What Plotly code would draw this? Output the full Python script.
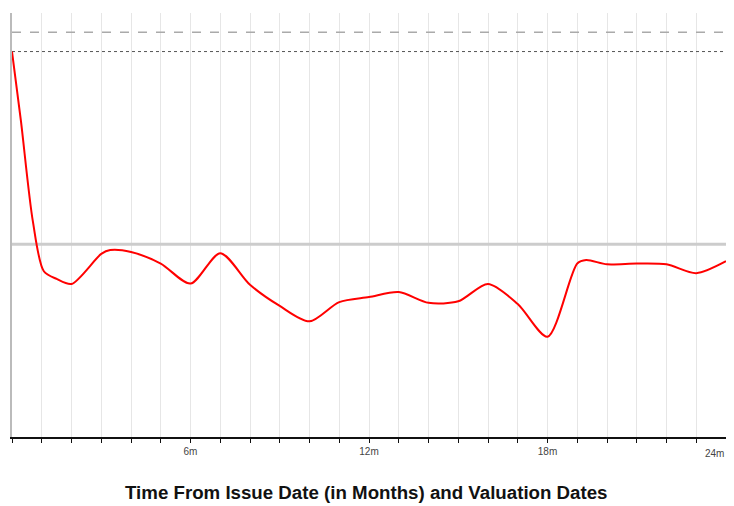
import plotly.graph_objects as go

months = [0, 0.3, 0.7, 1.07, 1.5, 2, 3, 3.3, 4, 5, 6, 7, 8, 9, 10, 11, 12, 13, 14, 15, 16, 17, 18, 19, 19.3, 20, 21, 22, 23, 24]
values = [100, 82, 56, 43, 41, 39.7, 47.5, 48.5, 48, 45, 39.8, 47.7, 39.5, 34, 30, 35, 36.3, 37.6, 34.8, 35.2, 39.7, 34.5, 26, 45, 45.9, 44.8, 45, 44.8, 42.5, 45.6]

upper_level = 105
initial_level = 100
barrier_level = 50

tick_months = list(range(0, 25))
tick_labels = ["6m" if m == 6 else "12m" if m == 12 else "18m" if m == 18 else "" for m in tick_months]
last_label = "24m"

fig = go.Figure()
fig.add_trace(go.Scatter(x=[0, 24], y=[upper_level, upper_level], mode="lines",
                         line=dict(color="#aaaaaa", width=1.5, dash="dash"), hoverinfo="skip"))
fig.add_trace(go.Scatter(x=[0, 24], y=[initial_level, initial_level], mode="lines",
                         line=dict(color="#555555", width=1, dash="dot"), hoverinfo="skip"))
fig.add_trace(go.Scatter(x=[0, 24], y=[barrier_level, barrier_level], mode="lines",
                         line=dict(color="#cccccc", width=3), hoverinfo="skip"))
fig.add_trace(go.Scatter(x=months, y=values, mode="lines",
                         line=dict(color="#ff0000", width=2, shape="spline", smoothing=0.8)))

fig.update_layout(
    width=726, height=498,
    margin=dict(l=4, r=8, t=5, b=69),
    paper_bgcolor="white", plot_bgcolor="white",
    showlegend=False,
    font=dict(family="Liberation Sans, Arial, sans-serif"),
    xaxis=dict(range=[0, 24], tickvals=tick_months, ticktext=tick_labels,
               showgrid=True, gridcolor="#e6e6e6", gridwidth=1,
               showline=True, linecolor="#111111", linewidth=2,
               ticks="outside", ticklen=4, tickcolor="#111111",
               tickfont=dict(size=10, color="#444444"), zeroline=False,
               automargin=False),
    yaxis=dict(range=[0, 110], showgrid=False, showticklabels=False, zeroline=False,
               showline=True, linecolor="#bbbbbb", linewidth=1.5, automargin=False),
    annotations=[
        dict(text="<b>Time From Issue Date (in Months) and Valuation Dates</b>",
             xref="paper", yref="paper", x=0.497, y=-0.13, xanchor="center", yanchor="middle",
             showarrow=False, font=dict(size=18.7, color="#111111")),
        dict(text=last_label, xref="x", yref="paper", x=24, y=-0.038,
             xanchor="right", yanchor="middle", showarrow=False, xshift=0,
             font=dict(size=10, color="#444444")),
    ],
)

fig.write_html("out.html")
